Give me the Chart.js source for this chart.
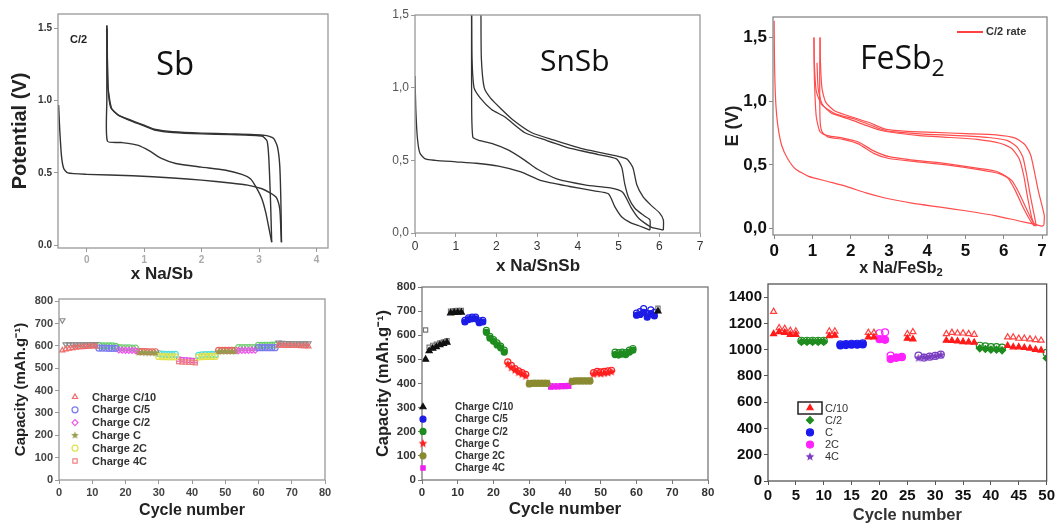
<!DOCTYPE html>
<html>
<head>
<meta charset="utf-8">
<script src="https://cdn.jsdelivr.net/npm/chart.js@4.4.1/dist/chart.umd.min.js"></script>
<style>
  body { margin: 0; background: #fff; width: 1057px; height: 523px; position: relative; overflow: hidden; font-family: 'Liberation Sans', Arial, sans-serif; }
  .box { position: absolute; }
  .lbl { position: absolute; white-space: nowrap; line-height: 1; }
  .big { font-family: 'Open Sans', sans-serif; color: #111; }
  .xt { font-weight: bold; font-size: 17px; color: #222; text-align: center; }
</style>
</head>
<body>
<div class="box" style="left:0;top:0;width:345px;height:290px"><canvas id="c1"></canvas></div>
<div class="box" style="left:355px;top:0;width:360px;height:290px"><canvas id="c2"></canvas></div>
<div class="box" style="left:715px;top:0;width:342px;height:290px"><canvas id="c3"></canvas></div>
<div class="box" style="left:0;top:275px;width:345px;height:250px"><canvas id="c4"></canvas></div>
<div class="box" style="left:355px;top:270px;width:365px;height:255px"><canvas id="c5"></canvas></div>
<div class="box" style="left:715px;top:270px;width:342px;height:255px"><canvas id="c6"></canvas></div>

<div class="lbl" style="left:70px;top:34px;font-weight:bold;font-size:11px;color:#222">C/2</div>
<div class="lbl big" style="left:156px;top:46px;font-size:33px">Sb</div>
<div class="lbl big" style="left:540px;top:45px;font-size:30px">SnSb</div>
<div class="lbl big" style="left:860px;top:41px;font-size:32px">FeSb<span style="font-size:0.72em;vertical-align:-0.32em">2</span></div>
<div class="lbl xt" style="left:102px;top:265px;width:120px">x Na/Sb</div>
<div class="lbl xt" style="left:478px;top:257px;width:120px">x Na/SnSb</div>
<div class="lbl xt" style="left:841px;top:260px;width:120px;font-size:16px">x Na/FeSb<span style="font-size:0.7em;vertical-align:-0.3em">2</span></div>
<div class="lbl" style="left:957px;top:31px;width:26px;height:1.6px;background:#ff4040"></div>
<div class="lbl" style="left:986px;top:26px;font-size:11px;font-weight:bold;color:#333">C/2 rate</div>

<script>
// ---- galvanostatic curves, [x Na, potential V] ----
const sbD1 = [[-0.49,0.97],[-0.47,0.8],[-0.44,0.62],[-0.4,0.53],[-0.33,0.5],[0,0.49],[0.8,0.48],[1.5,0.465],[2.0,0.45],[2.5,0.43],[2.8,0.415],[3.05,0.39],[3.2,0.36],[3.3,0.33],[3.36,0.25],[3.38,0.1],[3.39,0.02]];
const sbC1 = [[3.39,0.02],[3.38,0.3],[3.36,0.55],[3.32,0.68],[3.25,0.74],[3.1,0.76],[2.5,0.77],[2.0,0.775],[1.5,0.785],[1.2,0.8],[1.0,0.83],[0.8,0.86],[0.55,0.9],[0.42,0.95],[0.37,1.1],[0.35,1.52]];
const sbD2 = [[0.35,1.52],[0.35,1.0],[0.36,0.72],[0.6,0.71],[0.9,0.69],[1.1,0.65],[1.3,0.6],[1.55,0.565],[2.0,0.54],[2.4,0.52],[2.7,0.49],[2.85,0.46],[2.95,0.4],[3.05,0.32],[3.12,0.22],[3.18,0.1],[3.22,0.02]];
const sbC2 = [[3.22,0.02],[3.2,0.3],[3.17,0.6],[3.14,0.72],[3.05,0.755],[2.5,0.765],[2.0,0.77],[1.5,0.78],[1.2,0.795],[1.0,0.825],[0.8,0.855],[0.55,0.9],[0.43,0.95],[0.37,1.1],[0.355,1.5]];

const snD1 = [[0,1.08],[0.02,0.85],[0.06,0.65],[0.12,0.55],[0.25,0.51],[0.5,0.5],[1.0,0.49],[1.5,0.48],[2.05,0.46],[2.6,0.42],[3.1,0.36],[3.8,0.32],[4.4,0.29],[4.75,0.27],[4.91,0.18],[5.08,0.11],[5.3,0.07],[5.5,0.05],[5.77,0.02]];
const snC1 = [[5.77,0.02],[5.77,0.09],[5.62,0.12],[5.4,0.17],[5.25,0.24],[5.15,0.34],[5.08,0.45],[4.95,0.51],[4.5,0.54],[3.85,0.58],[3.2,0.64],[2.7,0.69],[2.2,0.8],[1.88,0.85],[1.6,0.93],[1.45,1.0],[1.4,1.2],[1.39,1.5]];
const snD2 = [[1.39,1.5],[1.39,1.0],[1.42,0.66],[1.6,0.635],[1.9,0.615],[2.3,0.57],[2.7,0.5],[3.0,0.44],[3.5,0.37],[4.2,0.33],[4.8,0.31],[5.1,0.28],[5.32,0.17],[5.5,0.1],[5.8,0.04],[6.1,0.02]];
const snC2 = [[6.1,0.02],[6.1,0.09],[6.0,0.14],[5.8,0.19],[5.6,0.25],[5.45,0.33],[5.35,0.45],[5.2,0.51],[4.7,0.545],[4.1,0.58],[3.4,0.64],[2.87,0.69],[2.4,0.78],[2.13,0.85],[1.85,0.93],[1.7,1.0],[1.63,1.2],[1.62,1.5]];

const feD1 = [[0,1.63],[0.01,1.3],[0.04,1.0],[0.1,0.8],[0.2,0.65],[0.35,0.55],[0.55,0.47],[0.9,0.41],[1.4,0.37],[1.9,0.33],[2.4,0.28],[2.9,0.24],[3.6,0.2],[4.3,0.17],[5.0,0.14],[5.8,0.1],[6.4,0.06],[6.8,0.035],[7.0,0.02],[7.05,0.03]];
const feC1 = [[7.05,0.03],[7.06,0.1],[7.0,0.18],[6.9,0.3],[6.8,0.45],[6.7,0.58],[6.55,0.66],[6.3,0.71],[5.8,0.735],[5.0,0.745],[4.2,0.755],[3.4,0.765],[2.9,0.78],[2.5,0.83],[2.1,0.87],[1.6,0.92],[1.35,0.99],[1.25,1.1],[1.21,1.3],[1.2,1.5]];
const feD2 = [[1.2,1.5],[1.19,1.2],[1.2,0.85],[1.25,0.76],[1.4,0.72],[1.8,0.7],[2.2,0.665],[2.6,0.59],[3.0,0.55],[3.7,0.525],[4.5,0.5],[5.3,0.465],[5.9,0.43],[6.2,0.38],[6.4,0.28],[6.6,0.15],[6.75,0.06],[6.85,0.02]];
const feC2 = [[6.85,0.02],[6.8,0.1],[6.7,0.25],[6.6,0.42],[6.5,0.56],[6.35,0.64],[6.1,0.69],[5.6,0.715],[4.8,0.73],[4.0,0.74],[3.3,0.755],[2.9,0.77],[2.5,0.815],[2.1,0.86],[1.6,0.9],[1.25,0.97],[1.1,1.08],[1.05,1.3],[1.04,1.5]];
const feD3 = [[1.04,1.5],[1.05,1.2],[1.1,0.88],[1.2,0.76],[1.4,0.73],[1.8,0.71],[2.2,0.68],[2.6,0.61],[3.0,0.565],[3.7,0.535],[4.5,0.51],[5.3,0.475],[5.8,0.45],[6.1,0.4],[6.3,0.3],[6.5,0.17],[6.7,0.06],[6.8,0.02]];
const feC3 = [[6.8,0.02],[6.72,0.1],[6.62,0.25],[6.52,0.42],[6.4,0.55],[6.2,0.63],[5.9,0.67],[5.3,0.7],[4.6,0.715],[3.8,0.73],[3.2,0.75],[2.8,0.77],[2.4,0.81],[2.0,0.855],[1.5,0.905],[1.25,0.98],[1.15,1.1],[1.12,1.3]];

// ---- rate capability, Sb ----
const sbC10X = [1,2,3,4,5,6,7,8,9,10,11,66,67,68,69,70,71,72,73,74,75];
const sbChgC10 = [580,585,588,590,592,594,595,596,597,598,598,602,601,601,600,600,600,600,599,599,598];
const sbDisC10 = [715,607,607,607,607,607,607,607,608,608,608,615,614,613,613,612,612,612,611,611,611];
const sbC5X = [12,13,14,15,16,17,60,61,62,63,64,65];
const sbChgC5 = [590,590,590,589,589,589,592,592,592,592,592,592];
const sbDisC5 = [602,600,600,600,600,598,603,603,603,603,604,604];
const sbC2X = [18,19,20,21,22,23,54,55,56,57,58,59];
const sbChgC2 = [582,581,580,580,580,579,579,580,580,580,581,581];
const sbDisC2 = [592,591,591,591,590,590,592,593,593,593,593,593];
const sbC1X = [24,25,26,27,28,29,48,49,50,51,52,53];
const sbChgC1 = [570,570,569,569,569,568,574,575,575,575,575,575];
const sbDisC1 = [576,575,575,574,574,574,580,580,580,580,580,580];
const sb2CX = [30,31,32,33,34,35,42,43,44,45,46,47];
const sbChg2C = [553,552,552,551,551,551,550,552,553,553,553,553];
const sbDis2C = [566,563,562,562,562,562,558,560,561,561,562,562];
const sb4CX = [36,37,38,39,40,41];
const sbChg4C = [530,528,528,527,527,525];
const sbDis4C = [541,538,537,536,535,534];

// ---- rate capability, SnSb ----
const snC10X = [1,2,3,4,5,6,7,8,9,10,11,66];
const snChgC10 = [500,535,545,552,560,565,570,692,694,695,695,700];
const snDisC10 = [622,550,558,563,568,572,577,700,702,703,703,712];
const snC5X = [12,13,14,15,16,17,60,61,62,63,64,65];
const snChgC5 = [655,665,668,668,652,655,683,686,695,675,690,680];
const snDisC5 = [662,672,675,675,660,662,692,698,710,690,705,695];
const snC2X = [18,19,20,21,22,23,54,55,56,57,58,59];
const snChgC2 = [612,588,575,560,548,530,520,518,522,520,530,538];
const snDisC2 = [620,595,582,568,555,538,530,528,530,528,538,545];
const snC1X = [24,25,26,27,28,29,48,49,50,51,52,53];
const snChgC1 = [480,465,455,445,438,430,438,442,440,442,444,448];
const snDisC1 = [490,475,462,452,445,438,445,450,448,450,452,455];
const sn2CX = [30,31,32,33,34,35,42,43,44,45,46,47];
const snChg2C = [398,400,400,400,400,400,408,410,410,410,410,410];
const snDis2C = [403,404,404,404,404,404,413,414,414,414,414,414];
const sn4CX = [36,37,38,39,40,41];
const snChg4C = [385,386,386,387,387,388];
const snDis4C = [390,390,390,391,391,392];

// ---- rate capability, FeSb2 ----
const feC10X = [1,2,3,4,5,11,12,18,19,25,26,32,33,34,35,36,37,43,44,45,46,47,48,49];
const feChgC10 = [1120,1135,1130,1115,1115,1105,1108,1095,1095,1085,1080,1070,1068,1065,1060,1058,1055,1030,1020,1020,1015,1010,1000,995];
const feDisC10 = [1290,1165,1160,1145,1140,1140,1140,1130,1130,1120,1135,1120,1130,1125,1125,1120,1115,1095,1095,1085,1085,1080,1075,1070];
const feC2X = [6,7,8,9,10,38,39,40,41,42,50];
const feChgC2 = [1060,1060,1060,1060,1060,1010,1005,1000,1000,995,935];
const feDisC2 = [1068,1068,1068,1068,1068,1030,1025,1020,1020,1015,975];
const feC1X = [13,14,15,16,17];
const feChgC1 = [1032,1035,1038,1038,1040];
const feDisC1 = [1040,1042,1045,1045,1048];
const fe2CX = [20,21,22,23,24];
const feChg2C = [1080,1075,928,938,943];
const feDis2C = [1125,1132,955,940,945];
const fe4CX = [27,28,29,30,31];
const feChg4C = [935,940,945,950,958];
const feDis4C = [955,940,947,952,962];

// ---- ticks ----
const sbXTicks = [0,1,2,3,4];
const sbYTicks = [0,0.5,1,1.5];
const snXTicks = [0,1,2,3,4,5,6,7];
const snYTicks = [0,0.5,1,1.5];
const feXTicks = [0,1,2,3,4,5,6,7];
const feYTicks = [0,0.5,1,1.5];
const cycXTicks = [0,10,20,30,40,50,60,70,80];
const capYTicks = [0,100,200,300,400,500,600,700,800];
const feCycXTicks = [0,5,10,15,20,25,30,35,40,45,50];
const feCapYTicks = [0,200,400,600,800,1000,1200,1400];

const FONT = "'Liberation Sans', Arial, sans-serif";

// full box round the plot area
const frame = {
  id: 'frame',
  afterDraw(chart, args, o) {
    const { ctx, chartArea: a } = chart;
    ctx.save();
    ctx.strokeStyle = o.color || '#888';
    ctx.lineWidth = o.width || 1.2;
    ctx.strokeRect(a.left, a.top, a.right - a.left, a.bottom - a.top);
    ctx.restore();
  }
};

// legend drawn inside the plot at fixed spot
const legendBox = {
  id: 'legendBox',
  afterDraw(chart, args, o) {
    if (!o.x) return;
    const ctx = chart.ctx;
    let y = o.y;
    chart.data.datasets.forEach(ds => {
      if (!ds.inLegend) return;
      ctx.save();
      ctx.fillStyle = ds.pointBackgroundColor;
      ctx.strokeStyle = ds.pointBorderColor;
      ctx.lineWidth = ds.pointBorderWidth || 1;
      Chart.helpers.drawPoint(ctx, {
        pointStyle: ds.legendStyle || ds.pointStyle,
        rotation: ds.pointRotation || 0,
        radius: ds.legendRadius || ds.pointRadius,
        borderWidth: ds.pointBorderWidth || 1
      }, o.x, y);
      ctx.restore();
      if (o.boxFirst && y === o.y) {
        ctx.save();
        ctx.strokeStyle = '#222';
        ctx.lineWidth = 1.5;
        ctx.strokeRect(o.x - 12, y - 6, 24, 12);
        ctx.restore();
      }
      ctx.save();
      ctx.font = o.font;
      ctx.fillStyle = o.color;
      ctx.textBaseline = 'middle';
      ctx.fillText(ds.label, o.tx, y + 0.5);
      ctx.restore();
      y += o.dy;
    });
  }
};
Chart.register(frame, legendBox);

function pts(list) { return list.map(p => ({ x: p[0], y: p[1] })); }
function zip(xs, ys) { return xs.map((x, i) => ({ x: x, y: ys[i] })); }

function curve(list, color, w) {
  return { data: pts(list), showLine: true, borderColor: color, borderWidth: w, pointRadius: 0, tension: 0.2, fill: false };
}

function starImg(color, r, filled) {
  const c = document.createElement('canvas');
  const s = Math.ceil(r * 2 + 3);
  c.width = c.height = s;
  const g = c.getContext('2d');
  g.beginPath();
  for (let i = 0; i < 10; i++) {
    const a = -Math.PI / 2 + i * Math.PI / 5;
    const rr = i % 2 ? r * 0.45 : r;
    g.lineTo(s / 2 + rr * Math.cos(a), s / 2 + rr * Math.sin(a));
  }
  g.closePath();
  if (filled) { g.fillStyle = color; g.fill(); } else { g.strokeStyle = color; g.lineWidth = 1; g.stroke(); }
  return c;
}

function marks(xs, ys, o) {
  return {
    label: o.label || '', inLegend: !!o.label,
    data: zip(xs, ys), showLine: false,
    pointStyle: o.style || 'circle', pointRotation: o.rot || 0,
    pointRadius: o.r || 3, pointBorderWidth: o.bw || 1.2,
    pointBorderColor: o.color, pointBackgroundColor: o.open ? 'rgba(255,255,255,0)' : o.color,
    legendStyle: o.legendStyle, legendRadius: o.legendRadius
  };
}

function axes(c) {
  const tickFont = { family: FONT, size: c.tsize, weight: c.tbold ? 'bold' : 'normal' };
  return {
    x: {
      type: 'linear', min: c.xmin, max: c.xmax,
      afterBuildTicks: s => { s.ticks = c.xt.map(v => ({ value: v })); },
      afterFit: s => { s.height = c.xh; },
      grid: { drawOnChartArea: false, tickLength: 4, color: c.fc },
      border: { display: false },
      ticks: { color: c.xcol || c.tcol, font: tickFont, padding: 2, maxRotation: 0, autoSkip: false, callback: c.fmtX || (v => v) },
      title: c.xtitle ? { display: true, text: c.xtitle, color: c.xtcol || '#222', font: { family: FONT, size: c.xts, weight: 'bold' }, padding: { top: 0, bottom: c.xtpad } } : { display: false }
    },
    y: {
      type: 'linear', min: c.ymin, max: c.ymax,
      afterBuildTicks: s => { s.ticks = c.yt.map(v => ({ value: v })); },
      afterFit: s => { s.width = c.yw; },
      grid: { drawOnChartArea: false, tickLength: 4, color: c.fc },
      border: { display: false },
      ticks: { color: c.tcol, font: tickFont, padding: 2, autoSkip: false, callback: c.fmtY || (v => v) },
      title: c.ytitle ? { display: true, text: c.ytitle, color: '#222', font: { family: FONT, size: c.yts, weight: 'bold' }, padding: { top: c.ytpad, bottom: 0 } } : { display: false }
    }
  };
}

function make(id, datasets, c, extra) {
  return new Chart(document.getElementById(id), {
    type: 'scatter',
    data: { datasets: datasets },
    options: {
      responsive: true, maintainAspectRatio: false, animation: false,
      layout: { padding: { top: c.pt, right: c.pr, left: 0, bottom: 0 } },
      plugins: Object.assign({ legend: { display: false }, tooltip: { enabled: false }, frame: { color: c.fc, width: c.fw || 1.3 } }, extra || {}),
      scales: axes(c)
    }
  });
}

const comma = v => v.toFixed(1).replace('.', ',');

// top row: voltage profiles
make('c1', [curve(sbD1, '#333', 1.4), curve(sbC1, '#333', 1.4), curve(sbD2, '#333', 1.4), curve(sbC2, '#333', 1.4)], {
  xmin: -0.5, xmax: 4.2, ymin: -0.02, ymax: 1.6, xt: sbXTicks, yt: sbYTicks,
  xh: 42, yw: 58, pt: 14, pr: 17, fc: '#999', tcol: '#333', xcol: '#aaa', tsize: 10, tbold: true,
  fmtY: v => v.toFixed(1), ytitle: 'Potential (V)', yts: 20, ytpad: 8
});

make('c2', [curve(snD1, '#333', 1.3), curve(snC1, '#333', 1.3), curve(snD2, '#333', 1.3), curve(snC2, '#333', 1.3)], {
  xmin: 0, xmax: 7, ymin: 0, ymax: 1.5, xt: snXTicks, yt: snYTicks,
  xh: 57, yw: 60, pt: 15, pr: 15, fc: '#999', tcol: '#555', xcol: '#333', tsize: 12, tbold: false,
  fmtY: comma
});

make('c3', [curve(feD1, '#ff4d4d', 1.2), curve(feC1, '#ff4d4d', 1.2), curve(feD2, '#ff4d4d', 1.2), curve(feC2, '#ff4d4d', 1.2), curve(feD3, '#ff4d4d', 1.2), curve(feC3, '#ff4d4d', 1.2)], {
  xmin: -0.03, xmax: 7.13, ymin: -0.05, ymax: 1.66, xt: feXTicks, yt: feYTicks,
  xh: 55, yw: 58, pt: 17, pr: 10, fc: '#888', tcol: '#111', tsize: 17, tbold: true,
  fmtY: comma, ytitle: 'E (V)', yts: 18, ytpad: 7
});

// bottom row: capacity vs cycle number
make('c4', [
  marks(sbC10X, sbChgC10, { label: 'Charge C/10', color: '#f06a6a', style: 'triangle', open: true }),
  marks(sbC5X, sbChgC5, { label: 'Charge C/5', color: '#7a7aee', open: true }),
  marks(sbC2X, sbChgC2, { label: 'Charge C/2', color: '#ee55ee', style: 'rectRot', open: true }),
  marks(sbC1X, sbChgC1, { label: 'Charge C', color: '#9a9a50', style: starImg('#9a9a50', 4, true) }),
  marks(sb2CX, sbChg2C, { label: 'Charge 2C', color: '#e2e24a', open: true }),
  marks(sb4CX, sbChg4C, { label: 'Charge 4C', color: '#f08080', style: 'rect', open: true }),
  marks(sbC10X, sbDisC10, { color: '#8a8a8a', style: 'triangle', rot: 180, open: true }),
  marks(sbC5X, sbDisC5, { color: '#66cc66', open: true }),
  marks(sbC2X, sbDisC2, { color: '#77cc77', open: true }),
  marks(sbC1X, sbDisC1, { color: '#ee6060', open: true }),
  marks(sb2CX, sbDis2C, { color: '#55dddd', open: true }),
  marks(sb4CX, sbDis4C, { color: '#e055e0', style: 'rect', open: true })
], {
  xmin: 0, xmax: 80, ymin: 0, ymax: 810, xt: cycXTicks, yt: capYTicks,
  xh: 45, yw: 59, pt: 24, pr: 20, fc: '#999', tcol: '#444', tsize: 11, tbold: true,
  xtitle: 'Cycle number', xts: 16, xtpad: 5, ytitle: 'Capacity (mAh.g⁻¹)', yts: 15, ytpad: 12
}, { legendBox: { x: 75, y: 122, dy: 12.8, tx: 92, font: "bold 11px " + FONT, color: '#333' } });

make('c5', [
  marks(snC10X, snChgC10, { label: 'Charge C/10', color: '#111', style: 'triangle', r: 3.5 }),
  marks(snC5X, snChgC5, { label: 'Charge C/5', color: '#1c1ce6' }),
  marks(snC2X, snChgC2, { label: 'Charge C/2', color: '#1e8c1e' }),
  marks(snC1X, snChgC1, { label: 'Charge C', color: '#ff2020', style: starImg('#ff2020', 4.5, true) }),
  marks(sn2CX, snChg2C, { label: 'Charge 2C', color: '#8a8a30' }),
  marks(sn4CX, snChg4C, { label: 'Charge 4C', color: '#f020f0', style: 'rect' }),
  marks(snC10X, snDisC10, { color: '#777', style: 'rect', open: true }),
  marks(snC5X, snDisC5, { color: '#1c1ce6', open: true }),
  marks(snC2X, snDisC2, { color: '#1e8c1e', open: true }),
  marks(snC1X, snDisC1, { color: '#ff2020', open: true }),
  marks(sn2CX, snDis2C, { color: '#8a8a30', style: 'rect', open: true }),
  marks(sn4CX, snDis4C, { color: '#f020f0', style: 'rect', open: true })
], {
  xmin: 0, xmax: 80, ymin: 0, ymax: 800, xt: cycXTicks, yt: capYTicks,
  xh: 45, yw: 67, pt: 17, pr: 12, fc: '#777', tcol: '#333', tsize: 11.5, tbold: true,
  xtitle: 'Cycle number', xts: 17, xtpad: 5, ytitle: 'Capacity (mAh.g⁻¹)', yts: 16.5, ytpad: 19
}, { legendBox: { x: 68, y: 137, dy: 12.2, tx: 100, font: "bold 10px " + FONT, color: '#333' } });

make('c6', [
  marks(feC10X, feChgC10, { label: 'C/10', color: '#ff1a1a', style: 'triangle', r: 3.5 }),
  marks(feC2X, feChgC2, { label: 'C/2', color: '#1e8c1e', style: 'rectRot', r: 3.5 }),
  marks(feC1X, feChgC1, { label: 'C', color: '#1a1aee', r: 3.5 }),
  marks(fe2CX, feChg2C, { label: '2C', color: '#ff22ff', r: 3.5 }),
  marks(fe4CX, feChg4C, { label: '4C', color: '#7a3cc0', style: starImg('#7a3cc0', 4.5, true) }),
  marks(feC10X, feDisC10, { color: '#ff4040', style: 'triangle', r: 3.5, open: true }),
  marks(feC2X, feDisC2, { color: '#1e8c1e', r: 3.5, open: true }),
  marks(feC1X, feDisC1, { color: '#1a1aee', r: 3.5, open: true }),
  marks(fe2CX, feDis2C, { color: '#ff22ff', r: 3.5, open: true }),
  marks(fe4CX, feDis4C, { color: '#7a3cc0', r: 3.5, open: true })
], {
  xmin: 0, xmax: 50, ymin: 0, ymax: 1500, xt: feCycXTicks, yt: feCapYTicks,
  xh: 44, yw: 53, pt: 14, pr: 10, fc: '#555', tcol: '#111', tsize: 15, tbold: true,
  xtitle: 'Cycle number', xtcol: '#333', xts: 16.5, xtpad: 0
}, { legendBox: { x: 95, y: 138, dy: 12.2, tx: 110, font: "11px " + FONT, color: '#333', boxFirst: true } });
</script>
</body>
</html>
